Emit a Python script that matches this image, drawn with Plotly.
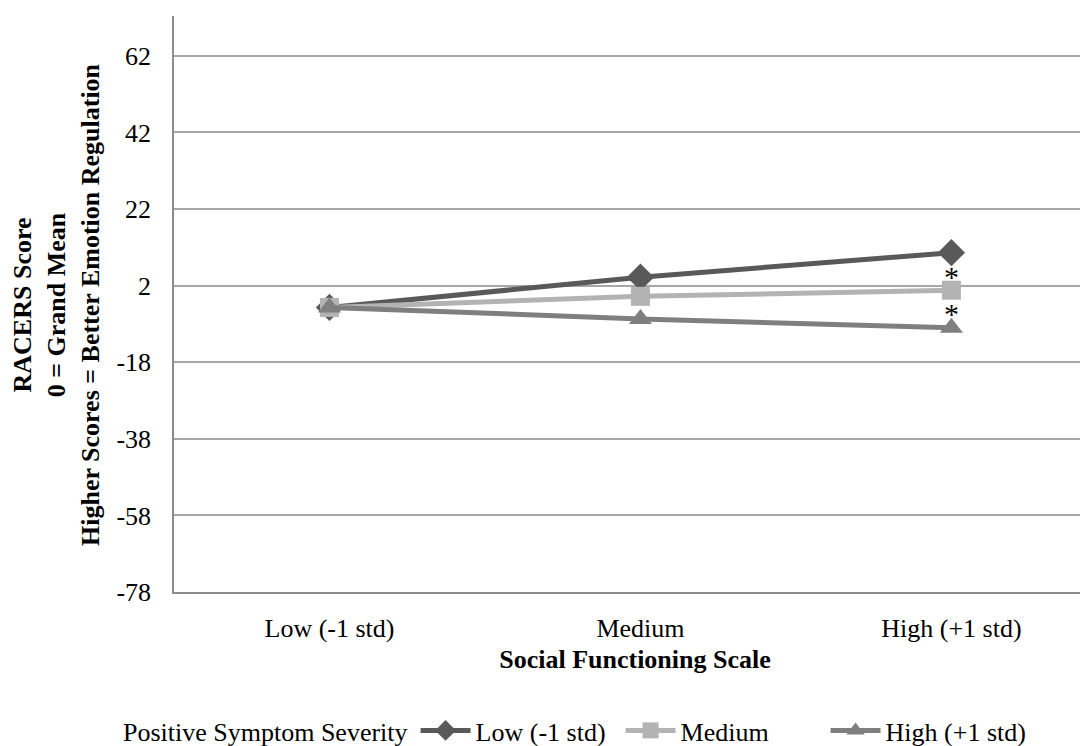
import plotly.graph_objects as go

categories = ["Low (-1 std)", "Medium", "High (+1 std)"]
series_names = ["Low (-1 std)", "Medium", "High (+1 std)"]
low_vals = [-3.7, 4.2, 10.6]
med_vals = [-3.7, -0.8, 0.8]
high_vals = [-3.7, -6.7, -9.0]
y_ticks = [-78, -58, -38, -18, 2, 22, 42, 62]
y_tick_text = ["-78", "-58", "-38", "-18", "2", "22", "42", "62"]

colors = ["#595959", "#b3b3b3", "#7f7f7f"]
symbols = ["diamond", "square", "triangle-up"]
sizes = [21, 19, 20]
FONT = "Liberation Serif, Times New Roman, serif"
FS = 26

fig = go.Figure()
for name, vals, c, s, sz in zip(series_names, [low_vals, med_vals, high_vals], colors, symbols, sizes):
    fig.add_trace(go.Scatter(
        x=list(range(len(categories))), y=vals, name=name, mode="lines+markers",
        line=dict(color=c, width=5), marker=dict(symbol=s, size=sz, color=c),
    ))

# significance asterisks
for vals in (med_vals, high_vals):
    fig.add_annotation(x=2, y=vals[2], text="*", showarrow=False, yshift=14,
                       font=dict(family=FONT, size=30, color="black"))

fig.add_annotation(
    xref="paper", yref="paper", x=-0.128, y=0.5, xanchor="center", yanchor="middle",
    textangle=-90, showarrow=False,
    text="<b>RACERS Score<br>0 = Grand Mean<br>Higher Scores = Better Emotion Regulation</b>",
    font=dict(family=FONT, size=FS, color="black"),
)

fig.update_layout(
    width=1088, height=746,
    margin=dict(l=166, r=0, t=8, b=154),
    paper_bgcolor="white", plot_bgcolor="white",
    font=dict(family=FONT, size=FS, color="black"),
    showlegend=True,
    legend=dict(orientation="h", x=-0.0575, xanchor="left", y=-0.2, yanchor="top",
                title=dict(text="Positive Symptom Severity", side="left",
                           font=dict(family=FONT, size=FS, color="black")),
                font=dict(family=FONT, size=FS, color="black"),
                itemwidth=50, entrywidth=140, entrywidthmode="pixels"),
    xaxis=dict(
        tickvals=list(range(len(categories))), ticktext=categories,
        range=[-0.5, 2.465], showgrid=False, zeroline=False,
        showline=True, linecolor="#8c8c8c", linewidth=1.5,
        ticks="", ticklabelstandoff=12,
        title=dict(text="<b>Social Functioning Scale</b>", standoff=8,
                   font=dict(family=FONT, size=FS)),
    ),
    yaxis=dict(
        tickvals=y_ticks, ticktext=y_tick_text, range=[-78, 72.4], showgrid=True,
        gridcolor="#a6a6a6", gridwidth=1.5, zeroline=False, showline=True,
        linecolor="#8c8c8c", linewidth=1.5, ticks="", ticklabelstandoff=16,
    ),
)

fig.write_html("out.html")
